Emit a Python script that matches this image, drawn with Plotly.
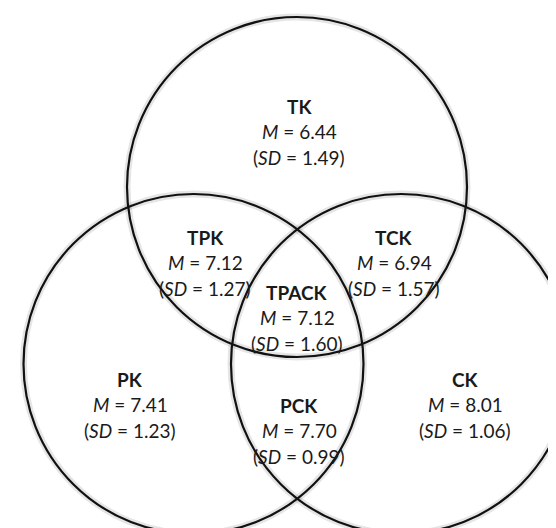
import plotly.graph_objects as go

# Data
regions = ["TK", "TPK", "TCK", "TPACK", "PK", "PCK", "CK"]
means = [6.44, 7.12, 6.94, 7.12, 7.41, 7.70, 8.01]
sds = [1.49, 1.27, 1.57, 1.60, 1.23, 0.99, 1.06]

# Layout (pixel-like data coordinates)
label_x = [291, 197, 386, 289, 122, 291, 457]
label_y = [98, 229, 229, 284, 371, 397, 371]
line_gap = 25.7

circle_names = ["T", "P", "C"]
circle_cx = [289, 185.5, 393]
circle_cy = [179, 356, 356]
circle_r = [170, 170, 170]

FONT = "Lato"
TEXT_COLOR = "#1a1a1a"
FS = 19

fig = go.Figure()
fig.add_trace(go.Scatter(x=[0, 556], y=[0, 528], mode="markers",
                         marker=dict(opacity=0), hoverinfo="skip", showlegend=False))

shapes = []
for cx, cy, r in zip(circle_cx, circle_cy, circle_r):
    shapes.append(dict(type="circle", xref="x", yref="y",
                       x0=cx - r, x1=cx + r, y0=cy - r, y1=cy + r,
                       line=dict(color="rgba(0,0,0,0.10)", width=7), layer="below"))
for cx, cy, r in zip(circle_cx, circle_cy, circle_r):
    shapes.append(dict(type="circle", xref="x", yref="y",
                       x0=cx - r, x1=cx + r, y0=cy - r, y1=cy + r,
                       line=dict(color="#111111", width=2.2)))

annotations = []
for name, m, sd, x, y in zip(regions, means, sds, label_x, label_y):
    lines = [f"<b>{name}</b>", f"<i>M</i> = {m:.2f}", f"(<i>SD</i> = {sd:.2f})"]
    for i, t in enumerate(lines):
        annotations.append(dict(x=x, y=y + i * line_gap, xref="x", yref="y",
                                text=t, showarrow=False,
                                font=dict(family=FONT, size=FS, color=TEXT_COLOR),
                                xanchor="center", yanchor="middle"))

fig.update_layout(
    width=556, height=528,
    margin=dict(l=0, r=0, t=0, b=0),
    paper_bgcolor="white", plot_bgcolor="white",
    xaxis=dict(range=[0, 556], visible=False, fixedrange=True),
    yaxis=dict(range=[528, 0], visible=False, fixedrange=True),
    shapes=shapes, annotations=annotations, showlegend=False,
)

fig.write_html("out.html")
